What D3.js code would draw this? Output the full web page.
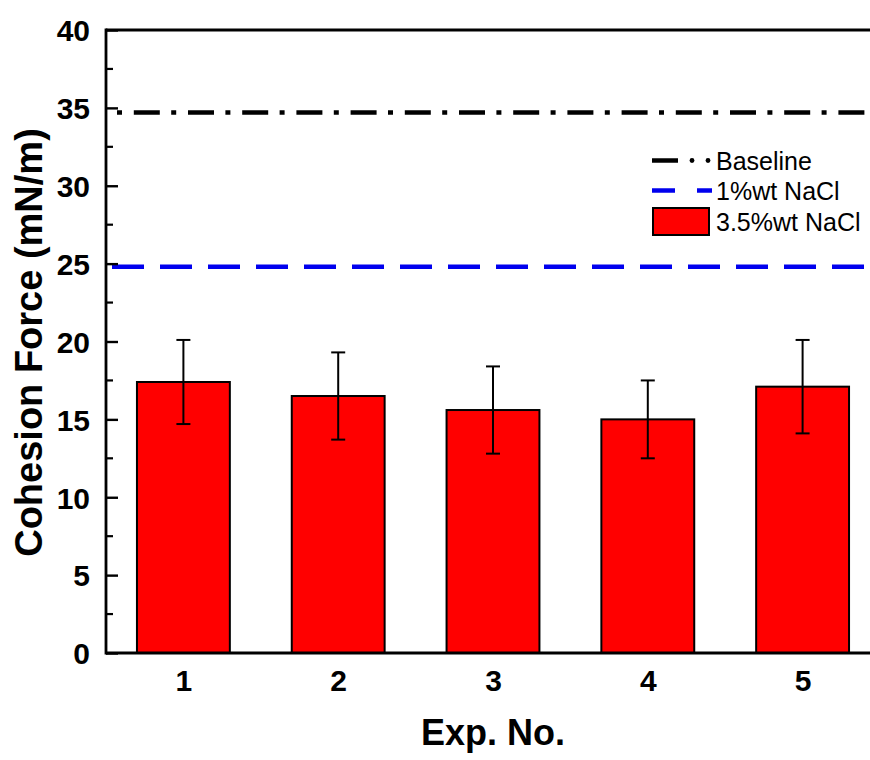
<!DOCTYPE html>
<html>
<head>
<meta charset="utf-8">
<script src="https://cdn.jsdelivr.net/npm/d3@7"></script>
<style>
  html, body { margin: 0; padding: 0; background: #fff; }
  svg { display: block; }
  text { font-family: Arial, "Liberation Sans", Helvetica, sans-serif; }
</style>
</head>
<body>
<svg id="chart" width="870" height="760"></svg>
<script>
// ---- data ----
const categories = [1, 2, 3, 4, 5];
const cohesion = [17.4, 16.5, 15.6, 15.0, 17.1];
const errors = [2.7, 2.8, 2.8, 2.5, 3.0];
const baselineValue = 34.7;
const nacl1Value = 24.8;
const yTicks = [0, 5, 10, 15, 20, 25, 30, 35, 40];
const yMinorTicks = [2.5, 7.5, 12.5, 17.5, 22.5, 27.5, 32.5, 37.5];
const legendLabels = ["Baseline", "1%wt NaCl", "3.5%wt NaCl"];

(function () {
// ---- layout ----
const svg = d3.select("#chart");
const pL = 106, pR = 880, pT = 30, pB = 653;

const x = d3.scaleLinear().domain([0.5, 5.5]).range([pL, pR]);
const y = d3.scaleLinear().domain([0, 40]).range([pB, pT]);
const barW = (x(2) - x(1)) * 0.6;

// bars
svg.append("g").selectAll("rect").data(categories).join("rect")
  .attr("x", (d) => x(d) - barW / 2)
  .attr("y", (d, i) => y(cohesion[i]))
  .attr("width", barW)
  .attr("height", (d, i) => y(0) - y(cohesion[i]))
  .attr("fill", "#ff0000")
  .attr("stroke", "#000")
  .attr("stroke-width", 2);

// error bars
const eb = svg.append("g").attr("stroke", "#000").attr("stroke-width", 2);
categories.forEach((c, i) => {
  const cx = x(c);
  eb.append("line").attr("x1", cx).attr("x2", cx)
    .attr("y1", y(cohesion[i] + errors[i])).attr("y2", y(cohesion[i] - errors[i]));
  eb.append("line").attr("x1", cx - 7).attr("x2", cx + 7)
    .attr("y1", y(cohesion[i] + errors[i])).attr("y2", y(cohesion[i] + errors[i]));
  eb.append("line").attr("x1", cx - 7).attr("x2", cx + 7)
    .attr("y1", y(cohesion[i] - errors[i])).attr("y2", y(cohesion[i] - errors[i]));
});

// reference lines
svg.append("line")
  .attr("x1", pL + 11).attr("x2", pR)
  .attr("y1", y(baselineValue)).attr("y2", y(baselineValue))
  .attr("stroke", "#000").attr("stroke-width", 4.5)
  .attr("stroke-dasharray", "5,11.8,26,11.4");
svg.append("line")
  .attr("x1", pL + 6).attr("x2", pR)
  .attr("y1", y(nacl1Value)).attr("y2", y(nacl1Value))
  .attr("stroke", "#0000ee").attr("stroke-width", 4.5)
  .attr("stroke-dasharray", "32,16");

// axes frame
const frame = svg.append("g").attr("stroke", "#000").attr("stroke-width", 2.8).attr("fill", "none");
frame.append("line").attr("x1", pL).attr("x2", pR).attr("y1", pT).attr("y2", pT);
frame.append("line").attr("x1", pL).attr("x2", pR).attr("y1", pB).attr("y2", pB);

// y axis
const yAxis = d3.axisLeft(y).tickValues(yTicks).tickSizeInner(-12).tickSizeOuter(0).tickPadding(16)
  .tickFormat(d3.format("d"));
const gy = svg.append("g").attr("transform", `translate(${pL},0)`).call(yAxis);
gy.select(".domain").attr("stroke-width", 2.8).attr("d", `M0,${pT - 1.4}V${pB + 1.4}`);
gy.selectAll(".tick line").attr("stroke-width", 2.4);
gy.selectAll(".tick text")
  .attr("font-family", "Arial, 'Liberation Sans', sans-serif")
  .attr("font-size", 30).attr("font-weight", "bold").attr("fill", "#000")
  .attr("x", -16).attr("dy", "0.36em");
svg.append("g").selectAll("line").data(yMinorTicks).join("line")
  .attr("x1", pL).attr("x2", pL + 7)
  .attr("y1", (d) => y(d)).attr("y2", (d) => y(d))
  .attr("stroke", "#000").attr("stroke-width", 2.2);

// x axis labels
const xAxis = d3.axisBottom(x).tickValues(categories).tickSize(0).tickPadding(17)
  .tickFormat(d3.format("d"));
const gx = svg.append("g").attr("transform", `translate(0,${pB})`).call(xAxis);
gx.select(".domain").remove();
gx.selectAll(".tick text")
  .attr("font-family", "Arial, 'Liberation Sans', sans-serif")
  .attr("font-size", 30).attr("font-weight", "bold").attr("fill", "#000");

// axis titles
svg.append("text")
  .attr("x", x(3)).attr("y", 745)
  .attr("text-anchor", "middle")
  .attr("font-size", 36).attr("font-weight", "bold")
  .text("Exp. No.");
svg.append("text")
  .attr("transform", `translate(42,${(pT + pB) / 2 + 1}) rotate(-90)`)
  .attr("text-anchor", "middle")
  .attr("font-size", 38).attr("font-weight", "bold")
  .text("Cohesion Force (mN/m)");

// legend
const lg = svg.append("g");
const lx = 652, rowY = [160.5, 190.5, 221.5];
lg.append("line").attr("x1", lx).attr("x2", 678).attr("y1", rowY[0]).attr("y2", rowY[0])
  .attr("stroke", "#000").attr("stroke-width", 4.5);
[692, 708].forEach((cx) => lg.append("circle").attr("cx", cx).attr("cy", rowY[0]).attr("r", 2.4).attr("fill", "#000"));
lg.append("line").attr("x1", lx).attr("x2", 675).attr("y1", rowY[1]).attr("y2", rowY[1])
  .attr("stroke", "#0000ee").attr("stroke-width", 4.5);
lg.append("line").attr("x1", 697).attr("x2", 712).attr("y1", rowY[1]).attr("y2", rowY[1])
  .attr("stroke", "#0000ee").attr("stroke-width", 4.5);
lg.append("rect").attr("x", 653).attr("y", 208).attr("width", 56).attr("height", 27)
  .attr("fill", "#ff0000").attr("stroke", "#000").attr("stroke-width", 2);
lg.selectAll("text").data(legendLabels).join("text")
  .attr("x", 716).attr("y", (d, i) => rowY[i]).attr("dy", "0.36em")
  .attr("font-size", 25).attr("fill", "#000")
  .text((d) => d);
})();
</script>
</body>
</html>
